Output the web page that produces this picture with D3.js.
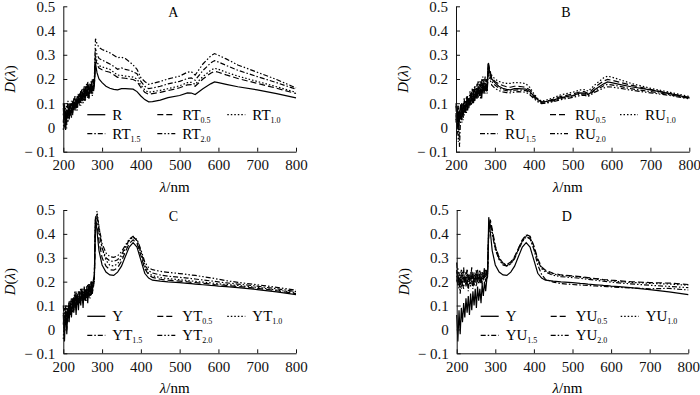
<!DOCTYPE html>
<html>
<head>
<meta charset="utf-8">
<script src="https://cdn.jsdelivr.net/npm/d3@7"></script>
<style>
  body { margin: 0; background: #fff; }
  svg { display: block; font-family: "Liberation Serif", "Times New Roman", serif; }
</style>
</head>
<body>
<div id="chart"></div>
<script>
// wavelength grids (nm): noisy UV part and smooth part
const wlNoise = [200,203,206,209,212,215,218,221,224,227,230,233,236,239,242,245,248,251,254,257,260,263,266,269,272,275,278];
const wlMain = [280,283,287,292,300,310,320,330,340,350,360,370,380,390,400,410,420,430,450,470,500,520,530,540,560,580,590,600,620,650,700,750,800];

const xTicks = [200, 300, 400, 500, 600, 700, 800];
const yTicks = [-0.1, 0, 0.1, 0.2, 0.3, 0.4, 0.5];

// control R (panels A, B)
const rNoise = [0.02,0.09,-0.01,0.07,0.04,0.1,0.05,0.08,0.06,0.11,0.07,0.12,0.09,0.13,0.1,0.15,0.11,0.14,0.12,0.17,0.13,0.16,0.12,0.18,0.14,0.17,0.15];
const rVals = [0.17,0.265,0.225,0.2,0.185,0.17,0.162,0.157,0.155,0.16,0.16,0.159,0.158,0.148,0.13,0.115,0.106,0.107,0.113,0.123,0.132,0.143,0.142,0.136,0.16,0.18,0.188,0.185,0.178,0.168,0.155,0.14,0.122];

// panel A: RT
const rt05Noise = [0.08,0.0,0.06,0.03,0.09,0.04,0.1,0.06,0.11,0.07,0.1,0.08,0.13,0.1,0.14,0.11,0.15,0.12,0.16,0.11,0.17,0.13,0.18,0.14,0.19,0.15,0.2];
const rt05Vals = [0.175,0.285,0.26,0.245,0.238,0.232,0.228,0.218,0.207,0.205,0.203,0.2,0.198,0.19,0.165,0.145,0.137,0.14,0.145,0.152,0.164,0.176,0.177,0.17,0.2,0.224,0.232,0.228,0.217,0.202,0.182,0.162,0.14];
const rt10Noise = [-0.01,0.07,0.03,0.1,0.02,0.08,0.05,0.11,0.07,0.09,0.12,0.08,0.11,0.14,0.09,0.13,0.16,0.1,0.15,0.13,0.18,0.12,0.16,0.15,0.17,0.13,0.19];
const rt10Vals = [0.18,0.3,0.27,0.255,0.25,0.245,0.24,0.228,0.216,0.215,0.212,0.21,0.208,0.2,0.175,0.155,0.145,0.148,0.153,0.16,0.172,0.185,0.186,0.178,0.21,0.236,0.244,0.24,0.228,0.212,0.19,0.168,0.145];
const rt15Noise = [0.1,0.03,0.08,0.01,0.07,0.05,0.09,0.04,0.1,0.08,0.13,0.07,0.12,0.1,0.12,0.15,0.1,0.16,0.11,0.15,0.14,0.19,0.12,0.17,0.14,0.2,0.16];
const rt15Vals = [0.19,0.325,0.3,0.285,0.278,0.27,0.262,0.252,0.24,0.246,0.24,0.236,0.23,0.222,0.19,0.17,0.16,0.163,0.17,0.18,0.19,0.202,0.205,0.195,0.235,0.266,0.276,0.27,0.256,0.236,0.21,0.185,0.158];
const rt20Noise = [0.05,0.1,0.0,0.06,0.11,0.03,0.08,0.1,0.05,0.12,0.09,0.11,0.07,0.12,0.13,0.09,0.14,0.13,0.17,0.12,0.15,0.17,0.13,0.16,0.19,0.15,0.18];
const rt20Vals = [0.2,0.366,0.345,0.33,0.322,0.315,0.308,0.298,0.288,0.29,0.284,0.272,0.258,0.24,0.205,0.19,0.178,0.182,0.19,0.2,0.212,0.228,0.23,0.216,0.262,0.295,0.305,0.298,0.283,0.258,0.228,0.198,0.163];

// panel B: RU
const ru05Noise = [0.09,-0.03,0.06,0.02,0.1,0.05,0.08,0.12,0.06,0.1,0.13,0.08,0.12,0.15,0.1,0.14,0.17,0.12,0.16,0.19,0.13,0.17,0.2,0.14,0.18,0.16,0.2];
const ru05Vals = [0.15,0.27,0.235,0.205,0.19,0.18,0.173,0.168,0.166,0.17,0.17,0.168,0.165,0.155,0.134,0.115,0.104,0.107,0.117,0.128,0.138,0.147,0.148,0.14,0.17,0.192,0.198,0.195,0.187,0.175,0.157,0.14,0.124];
const ru10Noise = [0.03,0.08,-0.06,0.07,0.04,0.1,0.03,0.09,0.11,0.06,0.12,0.1,0.15,0.09,0.13,0.16,0.11,0.17,0.13,0.15,0.19,0.12,0.17,0.21,0.15,0.19,0.17];
const ru10Vals = [0.16,0.25,0.235,0.215,0.2,0.19,0.185,0.182,0.182,0.185,0.185,0.184,0.18,0.165,0.14,0.12,0.108,0.112,0.122,0.135,0.145,0.155,0.156,0.15,0.18,0.205,0.212,0.208,0.198,0.182,0.162,0.145,0.128];
const ru15Noise = [0.06,0.0,0.09,-0.08,0.05,0.08,0.04,0.11,0.07,0.13,0.08,0.12,0.1,0.14,0.12,0.11,0.16,0.13,0.18,0.12,0.16,0.14,0.18,0.16,0.2,0.14,0.18];
const ru15Vals = [0.15,0.24,0.215,0.19,0.175,0.163,0.156,0.152,0.15,0.154,0.155,0.154,0.152,0.142,0.125,0.11,0.1,0.102,0.11,0.12,0.13,0.138,0.138,0.133,0.155,0.172,0.178,0.176,0.17,0.16,0.148,0.135,0.12];
const ru20Noise = [0.1,0.04,0.0,0.06,0.09,0.02,0.1,0.05,0.09,0.08,0.12,0.11,0.09,0.13,0.16,0.1,0.14,0.15,0.12,0.17,0.15,0.19,0.14,0.18,0.16,0.21,0.15];
const ru20Vals = [0.14,0.23,0.2,0.175,0.162,0.152,0.147,0.144,0.143,0.146,0.148,0.147,0.145,0.135,0.12,0.106,0.098,0.1,0.106,0.115,0.124,0.132,0.133,0.128,0.148,0.163,0.168,0.167,0.162,0.154,0.143,0.132,0.118];

// control Y (panels C, D)
const yNoise = [0.06,-0.05,0.08,-0.02,0.09,0.03,0.11,0.05,0.13,0.07,0.14,0.06,0.15,0.08,0.16,0.1,0.17,0.09,0.18,0.12,0.17,0.11,0.19,0.14,0.2,0.16,0.21];
const yVals = [0.22,0.47,0.41,0.33,0.27,0.24,0.228,0.226,0.24,0.265,0.305,0.345,0.363,0.345,0.29,0.235,0.215,0.206,0.202,0.199,0.196,0.193,0.192,0.19,0.187,0.184,0.183,0.181,0.179,0.175,0.167,0.157,0.146];

// panel C: YT
const yt05Noise = [0.1,0.02,0.07,0.0,0.09,0.05,0.12,0.07,0.1,0.14,0.09,0.15,0.11,0.16,0.12,0.14,0.17,0.11,0.15,0.13,0.18,0.14,0.16,0.19,0.14,0.2,0.18];
const yt05Vals = [0.21,0.45,0.44,0.37,0.3,0.265,0.25,0.248,0.258,0.285,0.325,0.36,0.375,0.36,0.31,0.255,0.228,0.218,0.21,0.206,0.202,0.199,0.197,0.196,0.193,0.19,0.188,0.187,0.184,0.18,0.172,0.162,0.15];
const yt10Noise = [-0.04,0.06,0.02,0.1,0.03,0.11,0.08,0.12,0.07,0.13,0.11,0.16,0.1,0.13,0.15,0.12,0.16,0.14,0.13,0.17,0.12,0.16,0.19,0.13,0.17,0.15,0.21];
const yt10Vals = [0.2,0.44,0.495,0.43,0.34,0.29,0.268,0.266,0.275,0.3,0.34,0.372,0.388,0.372,0.32,0.262,0.235,0.225,0.217,0.213,0.208,0.205,0.203,0.201,0.198,0.195,0.193,0.191,0.188,0.184,0.176,0.165,0.154];
const yt15Noise = [0.07,0.01,0.1,0.04,0.07,0.12,0.06,0.1,0.12,0.08,0.15,0.12,0.13,0.1,0.15,0.17,0.12,0.15,0.14,0.12,0.17,0.15,0.14,0.18,0.16,0.18,0.19];
const yt15Vals = [0.21,0.46,0.47,0.41,0.34,0.3,0.287,0.285,0.292,0.312,0.345,0.375,0.387,0.372,0.325,0.27,0.245,0.236,0.228,0.223,0.218,0.215,0.213,0.211,0.207,0.203,0.201,0.199,0.195,0.19,0.181,0.17,0.158];
const yt20Noise = [0.02,0.09,0.04,0.07,0.1,0.08,0.09,0.13,0.1,0.12,0.16,0.1,0.14,0.13,0.11,0.15,0.14,0.17,0.12,0.16,0.15,0.19,0.13,0.17,0.2,0.15,0.21];
const yt20Vals = [0.22,0.47,0.48,0.43,0.36,0.32,0.305,0.302,0.308,0.325,0.352,0.378,0.39,0.377,0.335,0.282,0.258,0.25,0.243,0.239,0.234,0.23,0.228,0.226,0.221,0.216,0.213,0.21,0.204,0.197,0.187,0.176,0.164];

// panel D: YU
const yu05Noise = [0.28,0.2,0.24,0.18,0.23,0.21,0.26,0.19,0.22,0.25,0.2,0.23,0.21,0.26,0.19,0.24,0.22,0.2,0.25,0.21,0.23,0.19,0.24,0.22,0.26,0.2,0.24];
const yu05Vals = [0.24,0.42,0.46,0.42,0.35,0.3,0.278,0.272,0.282,0.305,0.34,0.375,0.397,0.39,0.35,0.295,0.262,0.248,0.235,0.228,0.224,0.221,0.219,0.217,0.213,0.209,0.208,0.206,0.204,0.2,0.196,0.194,0.188];
const yu10Noise = [0.22,0.26,0.19,0.23,0.17,0.24,0.2,0.22,0.18,0.25,0.21,0.19,0.24,0.2,0.23,0.18,0.22,0.25,0.2,0.23,0.21,0.24,0.2,0.23,0.21,0.25,0.23];
const yu10Vals = [0.25,0.43,0.45,0.41,0.345,0.3,0.275,0.27,0.28,0.302,0.338,0.372,0.394,0.387,0.345,0.29,0.258,0.245,0.232,0.226,0.222,0.219,0.217,0.215,0.211,0.207,0.205,0.203,0.2,0.197,0.193,0.19,0.185];
const yu15Noise = [0.25,0.18,0.22,0.15,0.21,0.19,0.17,0.23,0.18,0.21,0.16,0.22,0.19,0.2,0.17,0.22,0.2,0.18,0.23,0.19,0.21,0.22,0.19,0.21,0.23,0.2,0.22];
const yu15Vals = [0.23,0.4,0.45,0.41,0.34,0.295,0.272,0.266,0.275,0.298,0.335,0.37,0.39,0.38,0.335,0.27,0.23,0.21,0.198,0.192,0.188,0.186,0.185,0.184,0.182,0.18,0.179,0.178,0.176,0.174,0.17,0.172,0.165];
const yu20Noise = [0.2,0.24,0.17,0.21,0.25,0.18,0.22,0.2,0.24,0.19,0.23,0.21,0.18,0.24,0.22,0.19,0.21,0.24,0.2,0.22,0.25,0.19,0.23,0.21,0.24,0.22,0.25];
const yu20Vals = [0.24,0.41,0.44,0.4,0.335,0.292,0.27,0.265,0.274,0.297,0.333,0.367,0.388,0.38,0.34,0.288,0.255,0.24,0.227,0.221,0.217,0.214,0.212,0.21,0.206,0.202,0.2,0.198,0.195,0.191,0.185,0.18,0.175];

// line styles
const dashes = {
  solid: null,
  dash: "6,3",
  dot: "1.5,2",
  dashDot: "5,2,1.5,2",
  dashDotDot: "5,2,1.5,2,1.5,2"
};

const panels = [
  {label: "A", x0: 63.3, x1: 296, top: 6.3, bottom: 151.7, series: [
    {name: "R", sub: "", style: "solid", noise: rNoise, vals: rVals},
    {name: "RT", sub: "0.5", style: "dash", noise: rt05Noise, vals: rt05Vals},
    {name: "RT", sub: "1.0", style: "dot", noise: rt10Noise, vals: rt10Vals},
    {name: "RT", sub: "1.5", style: "dashDot", noise: rt15Noise, vals: rt15Vals},
    {name: "RT", sub: "2.0", style: "dashDotDot", noise: rt20Noise, vals: rt20Vals}
  ]},
  {label: "B", x0: 456, x1: 689.3, top: 6.3, bottom: 151.7, series: [
    {name: "R", sub: "", style: "solid", noise: rNoise, vals: rVals},
    {name: "RU", sub: "0.5", style: "dash", noise: ru05Noise, vals: ru05Vals},
    {name: "RU", sub: "1.0", style: "dot", noise: ru10Noise, vals: ru10Vals},
    {name: "RU", sub: "1.5", style: "dashDot", noise: ru15Noise, vals: ru15Vals},
    {name: "RU", sub: "2.0", style: "dashDotDot", noise: ru20Noise, vals: ru20Vals}
  ]},
  {label: "C", x0: 63.3, x1: 296, top: 210, bottom: 353.3, series: [
    {name: "Y", sub: "", style: "solid", noise: yNoise, vals: yVals},
    {name: "YT", sub: "0.5", style: "dash", noise: yt05Noise, vals: yt05Vals},
    {name: "YT", sub: "1.0", style: "dot", noise: yt10Noise, vals: yt10Vals},
    {name: "YT", sub: "1.5", style: "dashDot", noise: yt15Noise, vals: yt15Vals},
    {name: "YT", sub: "2.0", style: "dashDotDot", noise: yt20Noise, vals: yt20Vals}
  ]},
  {label: "D", x0: 456.7, x1: 688.3, top: 210, bottom: 353.3, series: [
    {name: "Y", sub: "", style: "solid", noise: yNoise, vals: yVals},
    {name: "YU", sub: "0.5", style: "dash", noise: yu05Noise, vals: yu05Vals},
    {name: "YU", sub: "1.0", style: "dot", noise: yu10Noise, vals: yu10Vals},
    {name: "YU", sub: "1.5", style: "dashDot", noise: yu15Noise, vals: yu15Vals},
    {name: "YU", sub: "2.0", style: "dashDotDot", noise: yu20Noise, vals: yu20Vals}
  ]}
];

const fmtY = d => d < 0 ? "\u2212 " + d3.format(".1f")(-d) : (d === 0 ? "0" : d3.format(".1f")(d));

const svg = d3.select("#chart").append("svg")
  .attr("width", 700)
  .attr("height", 395)
  .style("background", "#fff");

panels.forEach(p => {
  const x = d3.scaleLinear().domain([200, 800]).range([p.x0, p.x1]);
  const y = d3.scaleLinear().domain([-0.1, 0.5]).range([p.bottom, p.top]);
  const g = svg.append("g");

  const line = d3.line()
    .x(d => x(d[0]))
    .y(d => y(d[1]));

  // curves
  p.series.forEach(s => {
    const pts = wlNoise.map((w, i) => [w, s.noise[i]])
      .concat(wlMain.map((w, i) => [w, s.vals[i]]));
    g.append("path")
      .datum(pts)
      .attr("fill", "none")
      .attr("stroke", "#000")
      .attr("stroke-width", 1.2)
      .attr("stroke-dasharray", dashes[s.style])
      .attr("d", line);
  });

  // axes (ticks point inwards)
  g.append("g")
    .attr("transform", `translate(0,${p.bottom})`)
    .call(d3.axisBottom(x).tickValues(xTicks).tickSizeInner(-4).tickSizeOuter(0).tickPadding(8))
    .call(a => a.selectAll("text").style("font-size", "15px").attr("fill", "#111"));

  g.append("g")
    .attr("transform", `translate(${p.x0},0)`)
    .call(d3.axisLeft(y).tickValues(yTicks).tickFormat(fmtY).tickSizeInner(-4).tickSizeOuter(0).tickPadding(8))
    .call(a => a.selectAll("text").style("font-size", "15px").attr("fill", "#111"));

  g.selectAll(".domain, .tick line").attr("stroke", "#111");
  g.selectAll("text").style("font-family", "'Liberation Serif', 'Times New Roman', serif");

  // panel letter
  g.append("text")
    .attr("x", p.x0 + 110)
    .attr("y", p.top + 11)
    .attr("text-anchor", "middle")
    .style("font-size", "14px")
    .text(p.label);

  // axis titles
  const xt = g.append("text")
    .attr("x", (p.x0 + p.x1) / 2 - 5)
    .attr("y", p.bottom + 40)
    .attr("text-anchor", "middle")
    .style("font-size", "15px");
  xt.append("tspan").style("font-style", "italic").text("\u03bb");
  xt.append("tspan").text("/nm");

  const yt = g.append("text")
    .attr("transform", `translate(${p.x0 - 48},${(p.top + p.bottom) / 2}) rotate(-90)`)
    .attr("text-anchor", "middle")
    .style("font-size", "15px");
  yt.append("tspan").style("font-style", "italic").text("D");
  yt.append("tspan").text("(");
  yt.append("tspan").style("font-style", "italic").text("\u03bb");
  yt.append("tspan").text(")");

  // legend: 3 entries on first row, 2 on second
  const cols = [24, 94, 164];
  const rows = [p.bottom - 37, p.bottom - 18];
  p.series.forEach((s, i) => {
    const lx = p.x0 + cols[i % 3];
    const ly = rows[Math.floor(i / 3)];
    g.append("line")
      .attr("x1", lx).attr("x2", lx + 18)
      .attr("y1", ly).attr("y2", ly)
      .attr("stroke", "#000")
      .attr("stroke-width", 1.3)
      .attr("stroke-dasharray", dashes[s.style]);
    const t = g.append("text")
      .attr("x", lx + 25)
      .attr("y", ly + 5)
      .style("font-size", "15px")
      .text(s.name);
    if (s.sub) {
      t.append("tspan")
        .attr("dy", 3)
        .style("font-size", "8px")
        .text(s.sub);
    }
  });
});
</script>
</body>
</html>
